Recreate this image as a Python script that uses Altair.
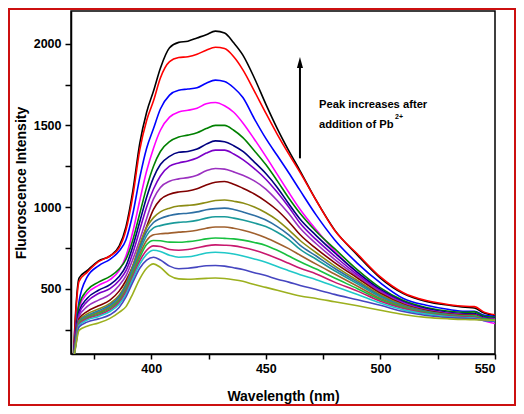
import altair as alt
import pandas as pd

wavelength = [366, 367, 368.5, 372, 377, 382, 386, 389, 392, 395,
              398, 401, 404, 408, 412, 416, 420, 424, 428, 432,
              436, 440, 445, 450, 455, 460, 465, 472, 480, 490,
              500, 510, 520, 530, 537, 541, 545, 550]

c_black = [60, 350, 565, 610, 670, 700, 760, 880, 1100, 1390,
           1580, 1710, 1850, 1975, 2008, 2015, 2035, 2055, 2077, 2065,
           2005, 1930, 1790, 1630, 1480, 1345, 1220, 1040, 860, 705,
           565, 470, 422, 398, 386, 382, 352, 336]
c_red = [60, 330, 545, 600, 665, 700, 750, 860, 1070, 1350,
         1530, 1650, 1790, 1890, 1915, 1920, 1935, 1960, 1978, 1970,
         1920, 1840, 1710, 1575, 1445, 1325, 1210, 1040, 858, 712,
         572, 475, 427, 402, 392, 390, 358, 340]
c_blue = [60, 250, 420, 570, 640, 680, 730, 800, 960, 1180,
          1360, 1480, 1600, 1685, 1715, 1722, 1730, 1758, 1777, 1768,
          1730, 1670, 1540, 1420, 1315, 1210, 1100, 950, 800, 655,
          535, 440, 398, 372, 362, 362, 338, 330]
c_magenta = [60, 230, 385, 470, 520, 555, 610, 700, 850, 1040,
             1220, 1360, 1470, 1550, 1582, 1592, 1605, 1632, 1640, 1620,
             1580, 1515, 1415, 1310, 1200, 1090, 985, 860, 730, 595,
             490, 412, 368, 344, 335, 333, 305, 287]
c_green = [60, 220, 400, 490, 540, 575, 620, 680, 800, 960,
           1120, 1250, 1340, 1400, 1428, 1440, 1455, 1480, 1500, 1500,
           1470, 1425, 1345, 1260, 1160, 1055, 960, 850, 745, 615,
           505, 428, 385, 362, 355, 358, 333, 325]
c_navy = [60, 210, 360, 440, 490, 525, 575, 640, 760, 910,
          1060, 1180, 1260, 1310, 1335, 1340, 1355, 1385, 1405, 1400,
          1375, 1340, 1275, 1205, 1120, 1020, 925, 825, 720, 600,
          495, 420, 378, 354, 346, 347, 325, 318]
c_violet = [60, 200, 345, 420, 470, 500, 550, 610, 720, 860,
            1000, 1110, 1190, 1250, 1270, 1282, 1300, 1330, 1348, 1348,
            1325, 1290, 1235, 1170, 1090, 1000, 900, 800, 700, 585,
            487, 415, 373, 350, 342, 342, 320, 314]
c_purple = [60, 190, 330, 390, 430, 465, 520, 580, 680, 800,
            930, 1050, 1120, 1158, 1172, 1180, 1195, 1222, 1236, 1232,
            1215, 1195, 1160, 1110, 1040, 960, 870, 775, 680, 575,
            480, 410, 369, 348, 340, 340, 318, 312]
c_wine = [60, 180, 315, 360, 395, 430, 485, 550, 640, 760,
          880, 985, 1045, 1078, 1092, 1098, 1112, 1135, 1152, 1156,
          1140, 1115, 1080, 1035, 980, 910, 830, 745, 660, 565,
          472, 405, 366, 345, 338, 338, 316, 310]
c_olive = [60, 175, 305, 345, 375, 410, 460, 530, 640, 770,
           875, 935, 970, 993, 1006, 1010, 1016, 1028, 1040, 1043,
           1035, 1025, 1000, 965, 920, 860, 795, 720, 640, 550,
           463, 400, 362, 342, 335, 335, 314, 309]
c_steel = [60, 170, 300, 335, 365, 400, 450, 520, 630, 750,
           850, 905, 930, 948, 958, 962, 970, 983, 990, 993,
           985, 970, 948, 920, 880, 830, 765, 700, 625, 540,
           456, 395, 360, 340, 333, 333, 313, 308]
c_teal = [60, 165, 295, 330, 358, 392, 440, 510, 615, 730,
          825, 872, 886, 898, 906, 910, 918, 932, 940, 940,
          932, 920, 902, 880, 845, 800, 740, 680, 610, 530,
          449, 391, 357, 338, 332, 332, 312, 307]
c_brown = [60, 160, 290, 325, 352, 385, 432, 500, 600, 710,
           795, 830, 836, 840, 846, 850, 858, 870, 878, 878,
           870, 858, 838, 812, 780, 745, 705, 650, 590, 515,
           440, 387, 354, 336, 330, 330, 311, 306]
c_green2 = [60, 158, 285, 320, 345, 378, 425, 490, 590, 690,
            770, 795, 793, 785, 784, 788, 795, 805, 810, 808,
            805, 797, 783, 765, 735, 700, 665, 620, 565, 500,
            432, 383, 352, 335, 330, 333, 315, 308]
c_crimson = [60, 155, 280, 315, 338, 370, 415, 480, 575, 670,
             735, 762, 758, 740, 735, 740, 750, 762, 768, 766,
             762, 752, 735, 712, 685, 655, 625, 590, 540, 485,
             423, 378, 348, 332, 326, 325, 308, 300]
c_cyan = [60, 150, 275, 308, 330, 360, 405, 465, 560, 650,
          710, 735, 728, 705, 692, 695, 705, 718, 723, 720,
          712, 700, 682, 662, 635, 610, 585, 555, 515, 465,
          412, 370, 344, 328, 322, 320, 305, 300]
c_slate = [60, 145, 265, 295, 315, 340, 385, 450, 540, 625,
           675, 692, 675, 638, 622, 625, 632, 640, 642, 638,
           628, 617, 598, 580, 558, 540, 520, 495, 465, 432,
           398, 360, 336, 323, 318, 316, 305, 302]
c_oliveyellow = [60, 140, 245, 270, 290, 318, 355, 390, 470, 560,
                 625, 652, 630, 580, 560, 558, 560, 563, 565, 562,
                 555, 545, 525, 508, 490, 472, 455, 440, 420, 395,
                 368, 342, 324, 315, 311, 310, 308, 307]

series_names = ["c01", "c02", "c03", "c04", "c05", "c06", "c07", "c08", "c09",
                "c10", "c11", "c12", "c13", "c14", "c15", "c16", "c17", "c18"]
series_colors = ["#000000", "#ff0000", "#0000ff", "#ff00ff", "#008000", "#000080",
                 "#7b00c8", "#9b30c0", "#800000", "#8c8c14", "#2e6fa3", "#1a9a9a",
                 "#a0602e", "#18c040", "#c8186e", "#20c8c8", "#4646c0", "#9cb01e"]
curves = [c_black, c_red, c_blue, c_magenta, c_green, c_navy, c_violet, c_purple,
          c_wine, c_olive, c_steel, c_teal, c_brown, c_green2, c_crimson, c_cyan,
          c_slate, c_oliveyellow]

x_ticks = [375, 400, 425, 450, 475, 500, 525, 550]
y_ticks = [250, 500, 750, 1000, 1250, 1500, 1750, 2000]

ann_lines = ["Peak increases after", "addition of Pb"]
ann_x = [473.2, 473.2]
ann_y = [1624, 1502]
sup_text = ["2+"]
sup_x = [506.4]
sup_y = [1551]
arrow_x = [464.9]
arrow_bottom = [1298]
arrow_top = [1863]
arrow_head_y = [1885]

rows = []
for name, vals in zip(series_names, curves):
    for w, v in zip(wavelength, vals):
        rows.append({"wl": w, "v": v, "s": name})
df = pd.DataFrame(rows)

FONT = "Liberation Sans"
x_scale = alt.Scale(domain=[365, 550], nice=False, zero=False)
y_scale = alt.Scale(domain=[100, 2200], nice=False, zero=False)

x_axis = alt.Axis(title="Wavelength (nm)", values=x_ticks,
                  labelExpr="datum.value % 50 == 0 ? datum.label : ''",
                  grid=False, tickSize=5, tickWidth=1.5, tickColor="black",
                  domainColor="black", domainWidth=1.5,
                  labelFont=FONT, labelFontSize=12.5, labelFontWeight="bold",
                  labelColor="black", labelPadding=3, labelOverlap=False,
                  titleFont=FONT, titleFontSize=14, titleFontWeight="bold",
                  titleColor="black", titlePadding=15)
y_axis = alt.Axis(title="Fluoroscence Intensity", values=y_ticks,
                  labelExpr="datum.value % 500 == 0 ? datum.label : ''",
                  format="d",
                  grid=False, tickSize=6, tickWidth=1.5, tickColor="black",
                  domainColor="black", domainWidth=1.5,
                  labelFont=FONT, labelFontSize=12.5, labelFontWeight="bold",
                  labelColor="black", labelPadding=4, labelOverlap=False,
                  titleFont=FONT, titleFontSize=14, titleFontWeight="bold",
                  titleColor="black", titlePadding=5)

lines = alt.Chart(df).mark_line(strokeWidth=1.6, interpolate="monotone", clip=True).encode(
    x=alt.X("wl:Q", scale=x_scale, axis=x_axis),
    y=alt.Y("v:Q", scale=y_scale, axis=y_axis),
    color=alt.Color("s:N", scale=alt.Scale(domain=series_names, range=series_colors), legend=None),
)

ann_df = pd.DataFrame({"x": ann_x, "y": ann_y, "t": ann_lines})
ann = alt.Chart(ann_df).mark_text(align="left", baseline="middle", font=FONT,
                                  fontSize=11.2, fontWeight="bold", color="black").encode(
    x=alt.X("x:Q", scale=x_scale), y=alt.Y("y:Q", scale=y_scale), text="t:N")

sup_df = pd.DataFrame({"x": sup_x, "y": sup_y, "t": sup_text})
sup = alt.Chart(sup_df).mark_text(align="left", baseline="middle", font=FONT,
                                  fontSize=7, fontWeight="bold", color="black").encode(
    x=alt.X("x:Q", scale=x_scale), y=alt.Y("y:Q", scale=y_scale), text="t:N")

arrow_df = pd.DataFrame({"x": arrow_x, "y1": arrow_bottom, "y2": arrow_top, "yh": arrow_head_y})
shaft = alt.Chart(arrow_df).mark_rule(color="black", strokeWidth=2).encode(
    x=alt.X("x:Q", scale=x_scale), y=alt.Y("y1:Q", scale=y_scale), y2="y2:Q")
head = alt.Chart(arrow_df).mark_point(shape="M0,-1L0.55,1L-0.55,1Z", size=121, filled=True,
                                      color="black", opacity=1, strokeWidth=0).encode(
    x=alt.X("x:Q", scale=x_scale), y=alt.Y("yh:Q", scale=y_scale))

border = alt.Chart(pd.DataFrame({"a": [0]})).mark_rect(filled=False, stroke="#cc1010", strokeWidth=2).encode(
    x=alt.value(-62), x2=alt.value(444), y=alt.value(-2), y2=alt.value(394))

chart = alt.layer(border, lines, shaft, head, ann, sup).properties(
    width=424, height=343,
    padding={"left": 63, "top": 3, "right": 21, "bottom": 52},
    autosize=alt.AutoSizeParams(type="none"),
    background="white",
).configure_view(stroke="black", strokeWidth=1.5)

chart.save("out.html", embed_options={"renderer": "svg", "actions": False})
